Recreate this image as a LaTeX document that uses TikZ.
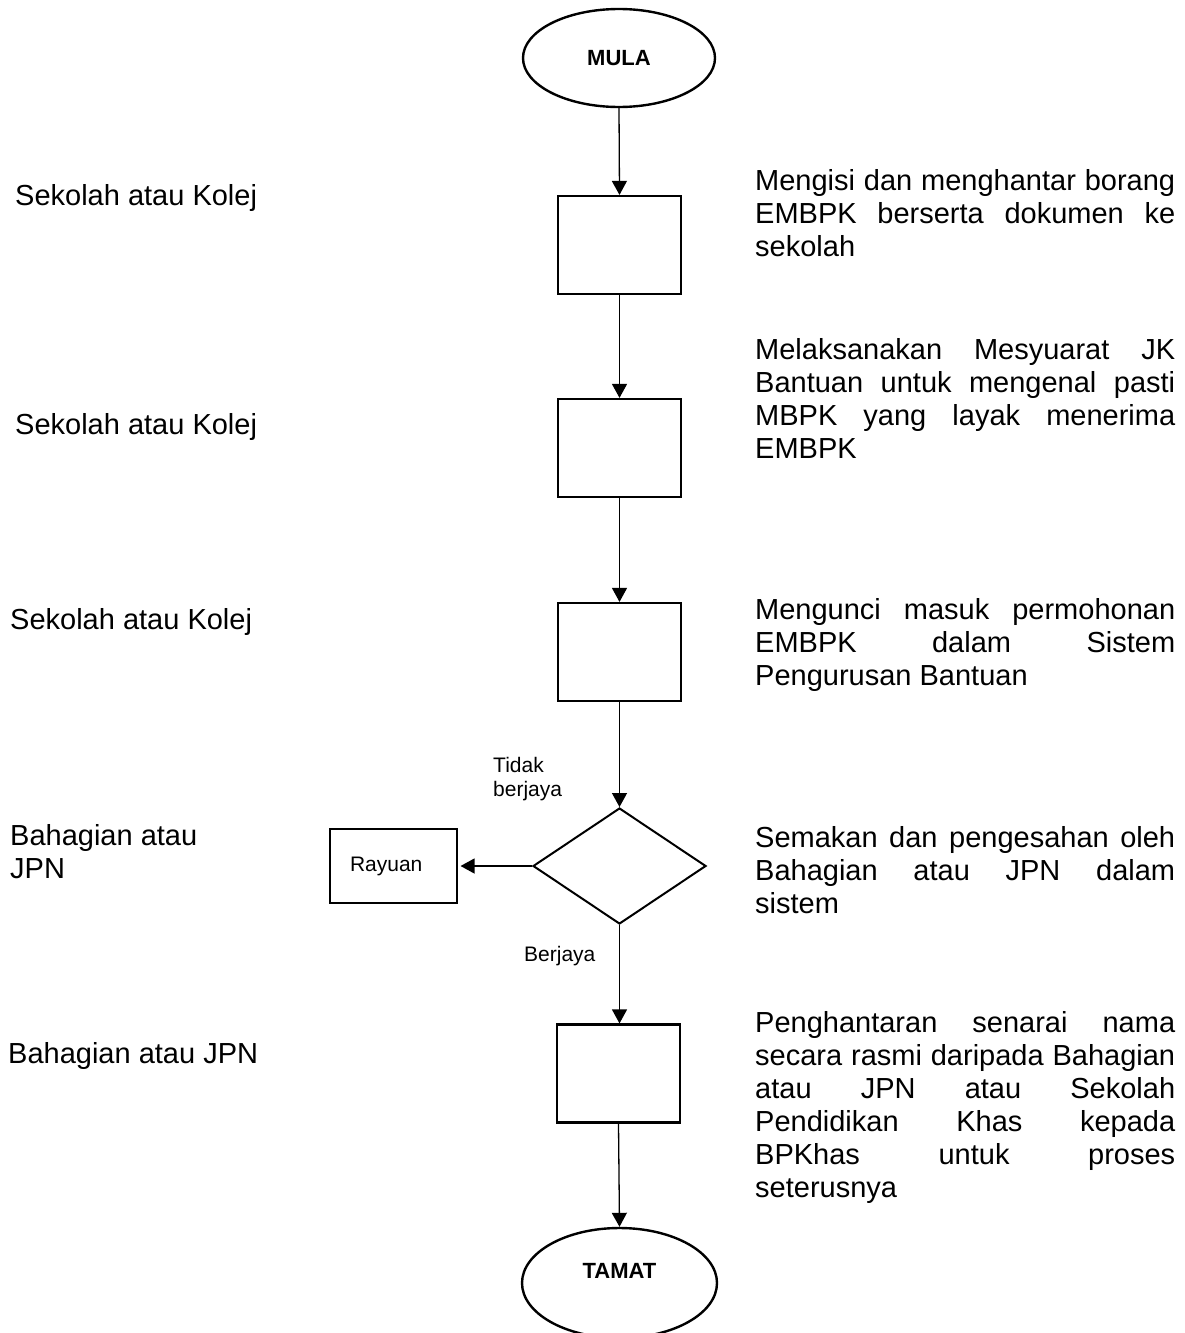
\documentclass[tikz,border=0pt]{standalone}
\usepackage{fontspec}
\setmainfont{Liberation Sans}
\usetikzlibrary{shapes.geometric,arrows.meta}

\tikzset{
  flowbox/.style={draw, line width=2.2pt, minimum width=123pt, minimum height=98pt, inner sep=0pt},
  terminal/.style={draw, ellipse, line width=2.4pt, inner sep=0pt,
    font=\fontsize{22}{26}\selectfont\bfseries},
  decision/.style={draw, diamond, line width=2pt, minimum width=173pt, minimum height=116pt, inner sep=0pt},
  flow/.style={line width=1.3pt, -{Triangle[length=14pt,width=15pt]}},
  bigtext/.style={inner sep=0pt, font=\fontsize{29}{33}\selectfont},
  desc/.style={bigtext, anchor=north west, text width=420pt, align=justify,
    execute at begin node={\hyphenpenalty=10000\tolerance=10000\hbadness=10000}},
  role/.style={bigtext, anchor=north west, align=left},
  smalltext/.style={inner sep=0pt, font=\fontsize{21}{24}\selectfont}
}

\begin{document}
\begin{tikzpicture}[x=1pt,y=-1pt]
\useasboundingbox (0,0) rectangle (1184,1333);

% main column of the flow
\node[terminal, minimum width=192pt, minimum height=98pt] (mula) at (619,58) {MULA};
\node[flowbox] (isi)   at (619.5,245) {};
\node[flowbox] (mesy)  at (619.5,448) {};
\node[flowbox] (kunci) at (619.5,652) {};
\node[decision] (semak) at (619.5,866) {};
\node[flowbox] (hantar) at (618.5,1073.5) {};
\node[terminal, minimum width=195pt, minimum height=110pt,
      text height=16pt, text depth=26pt] (tamat) at (619.5,1283) {TAMAT};

% appeal box on the rejected branch
\node[draw, line width=1.1pt, minimum width=127pt, minimum height=74pt,
      inner xsep=0pt, text width=87pt, align=left,
      font=\fontsize{21}{24}\selectfont] (rayuan) at (393.5,866) {Rayuan};

% connectors
\draw[flow] (mula.south) -- (isi.north);
\draw[flow] (isi.south) -- (mesy.north);
\draw[flow] (mesy.south) -- (kunci.north);
\draw[flow] (kunci.south) -- (semak.north);
\draw[flow, shorten >=3pt] (semak.west) -- (rayuan.east);
\draw[flow] (semak.south) -- (semak.south |- hantar.north);
\draw[flow] (hantar.south) -- (tamat.north);

% branch labels
\node[smalltext, anchor=north west, align=left] (tidak) at (493,755) {\strut Tidak\\berjaya};
\node[smalltext, anchor=base west] (berjaya) at (524,961) {Berjaya};

% responsible parties
\node[role] (r1) at (15,181.9) {\strut Sekolah atau Kolej};
\node[role] (r2) at (15,410.9) {\strut Sekolah atau Kolej};
\node[role] (r3) at (10,605.9) {\strut Sekolah atau Kolej};
\node[role] (r4) at (10,821.9) {\strut Bahagian atau\\JPN};
\node[role] (r5) at (8,1039.9) {\strut Bahagian atau JPN};

% step descriptions
\node[desc] (d1) at (755,167.4) {\strut Mengisi dan menghantar borang\linebreak
  EMBPK berserta dokumen ke\linebreak sekolah};
\node[desc] (d2) at (755,336) {\strut Melaksanakan Mesyuarat JK\linebreak
  Bantuan untuk mengenal pasti\linebreak MBPK yang layak menerima\linebreak EMBPK};
\node[desc] (d3) at (755,596) {\strut Mengunci masuk permohonan\linebreak
  EMBPK dalam Sistem\linebreak Pengurusan Bantuan};
\node[desc] (d4) at (755,824) {\strut Semakan dan pengesahan oleh\linebreak
  Bahagian atau JPN dalam\linebreak sistem};
\node[desc] (d5) at (755,1009) {\strut Penghantaran senarai nama\linebreak
  secara rasmi daripada Bahagian\linebreak atau JPN atau Sekolah\linebreak
  Pendidikan Khas kepada\linebreak BPKhas untuk proses\linebreak seterusnya};
\end{tikzpicture}
\end{document}
